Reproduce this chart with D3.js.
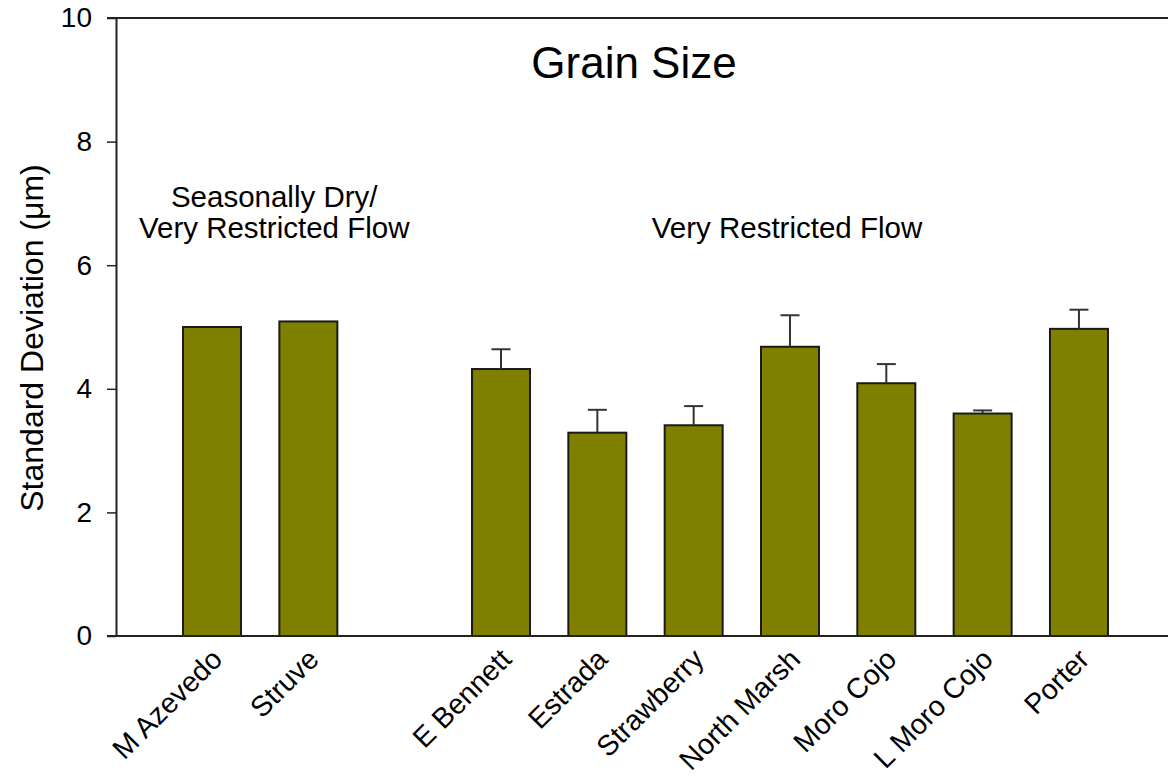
<!DOCTYPE html>
<html>
<head>
<meta charset="utf-8">
<script src="https://cdn.jsdelivr.net/npm/d3@7"></script>
<style>
  html, body { margin: 0; padding: 0; background: #fff; }
  svg { display: block; }
  text { font-family: "Liberation Sans", Arial, sans-serif; fill: #000; }
</style>
</head>
<body>
<svg id="chart" width="1168" height="778"></svg>
<script>
// ---- data ----
const slots = ["M Azevedo", "Struve", "__gap__", "E Bennett", "Estrada", "Strawberry", "North Marsh", "Moro Cojo", "L Moro Cojo", "Porter"];
const categories = ["M Azevedo", "Struve", "E Bennett", "Estrada", "Strawberry", "North Marsh", "Moro Cojo", "L Moro Cojo", "Porter"];
const values = [5.00, 5.09, 4.32, 3.29, 3.41, 4.68, 4.09, 3.60, 4.97];
const errors = [null, null, 0.32, 0.37, 0.31, 0.51, 0.31, 0.05, 0.31];
const yTicks = [0, 2, 4, 6, 8, 10];
const title = "Grain Size";
const yLabel = "Standard Deviation (\u03BCm)";
const groupLabels = [
  { lines: ["Seasonally Dry/", "Very Restricted Flow"], cats: ["M Azevedo", "Struve"] },
  { lines: ["Very Restricted Flow"], cats: ["E Bennett", "Porter"] }
];

// ---- layout ----
const svg = d3.select("#chart");
const x0 = 116, yTop = 18, yBot = 636;

const x = d3.scaleBand()
  .domain(slots)
  .range([116, 1175])
  .paddingInner(0.398)
  .paddingOuter(0.696);

const y = d3.scaleLinear().domain([0, 10]).range([yBot, yTop]);

// top frame line
svg.append("line")
  .attr("x1", 107).attr("x2", 1168)
  .attr("y1", y(10)).attr("y2", y(10))
  .attr("stroke", "#222").attr("stroke-width", 2);

// bars
const data = categories.map((c, i) => ({ c, v: values[i], e: errors[i] }));
svg.append("g").selectAll("rect").data(data).join("rect")
  .attr("x", d => x(d.c))
  .attr("width", x.bandwidth())
  .attr("y", d => y(d.v))
  .attr("height", d => y(0) - y(d.v))
  .attr("fill", "#808000")
  .attr("stroke", "#1a1a1a")
  .attr("stroke-width", 2);

// error bars
const eg = svg.append("g").attr("stroke", "#333").attr("stroke-width", 2);
data.filter(d => d.e != null).forEach(d => {
  const cx = x(d.c) + x.bandwidth() / 2;
  eg.append("line").attr("x1", cx).attr("x2", cx).attr("y1", y(d.v)).attr("y2", y(d.v + d.e));
  eg.append("line").attr("x1", cx - 9.5).attr("x2", cx + 9.5).attr("y1", y(d.v + d.e)).attr("y2", y(d.v + d.e));
});

// y axis
const yAxis = svg.append("g")
  .attr("transform", `translate(${x0},0)`)
  .call(d3.axisLeft(y).tickValues(yTicks).tickSize(9).tickPadding(15).tickSizeOuter(0));
yAxis.select(".domain").attr("stroke", "#222").attr("stroke-width", 2);
yAxis.selectAll(".tick line").attr("stroke", "#222").attr("stroke-width", 1.5);
yAxis.selectAll(".tick text")
  .style("font-family", "'Liberation Sans', Arial, sans-serif")
  .style("font-size", "28px").attr("fill", "#000");

// x axis line
svg.append("line")
  .attr("x1", 107).attr("x2", 1168)
  .attr("y1", yBot).attr("y2", yBot)
  .attr("stroke", "#222").attr("stroke-width", 2);

// x axis labels (rotated)
svg.append("g").selectAll("text").data(categories).join("text")
  .attr("transform", d => `translate(${x(d) + x.bandwidth() / 2 + 12},${yBot + 25}) rotate(-45)`)
  .attr("text-anchor", "end")
  .style("font-size", "28.5px")
  .text(d => d);

// title
svg.append("text")
  .attr("x", 634).attr("y", 78)
  .attr("text-anchor", "middle")
  .style("font-size", "44px")
  .text(title);

// group labels
const groupShift = [14, -3];
groupLabels.forEach((g, gi) => {
  const a = x(g.cats[0]), b = x(g.cats[1]) + x.bandwidth();
  const cx = (a + b) / 2 + groupShift[gi];
  const n = g.lines.length;
  g.lines.forEach((ln, i) => {
    svg.append("text")
      .attr("x", cx)
      .attr("y", 238 - (n - 1 - i) * 31)
      .attr("text-anchor", "middle")
      .style("font-size", "29.5px")
      .text(ln);
  });
});

// y label
svg.append("text")
  .attr("transform", `translate(43,338) rotate(-90)`)
  .attr("text-anchor", "middle")
  .style("font-size", "32px")
  .text(yLabel);
</script>
</body>
</html>
